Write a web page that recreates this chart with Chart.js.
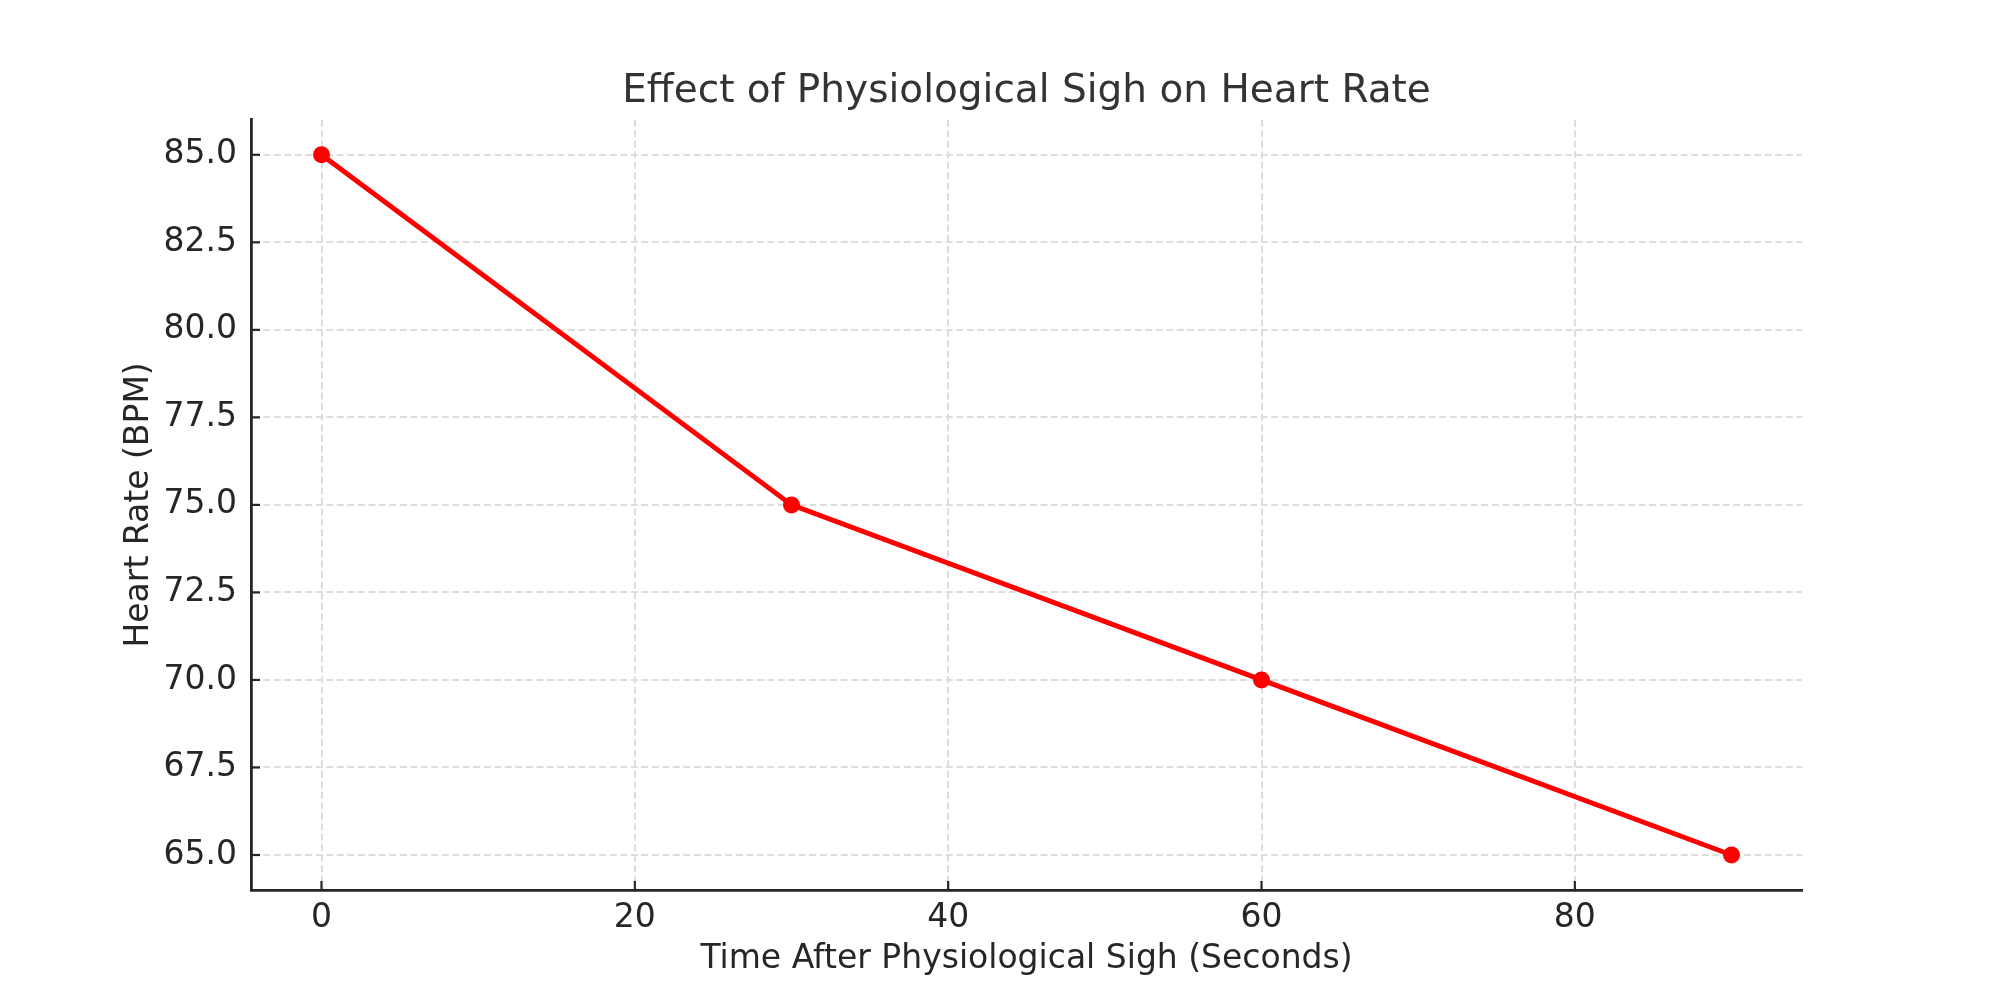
<!DOCTYPE html>
<html>
<head>
<meta charset="utf-8">
<title>Effect of Physiological Sigh on Heart Rate</title>
<script src="https://cdn.jsdelivr.net/npm/chart.js@4.4.1/dist/chart.umd.min.js"></script>
<style>
  html, body { margin: 0; padding: 0; background: #fff; }
  #chart { display: block; }
</style>
</head>
<body>
<canvas id="chart" width="2000" height="1000"></canvas>
<script>
// ---- data ----
const seconds = [0, 30, 60, 90];
const heartRate = [85, 75, 70, 65];
const xTicks = [0, 20, 40, 60, 80];
const yTicks = [65, 67.5, 70, 72.5, 75, 77.5, 80, 82.5, 85];

const FONT = "'DejaVu Sans', 'Liberation Sans', sans-serif";
const INK = "#262626";

// matplotlib-style ticks pointing into the plot
const innerTicks = {
  id: "innerTicks",
  beforeDatasetsDraw(chart) {
    const { ctx, chartArea, scales } = chart;
    const len = 9;
    ctx.save();
    ctx.strokeStyle = INK;
    ctx.lineWidth = 2.2;
    xTicks.forEach(v => {
      const px = scales.x.getPixelForValue(v);
      ctx.beginPath();
      ctx.moveTo(px, chartArea.bottom);
      ctx.lineTo(px, chartArea.bottom - len);
      ctx.stroke();
    });
    yTicks.forEach(v => {
      const py = scales.y.getPixelForValue(v);
      ctx.beginPath();
      ctx.moveTo(chartArea.left, py);
      ctx.lineTo(chartArea.left + len, py);
      ctx.stroke();
    });
    ctx.restore();
  }
};

new Chart(document.getElementById("chart"), {
  type: "line",
  data: {
    datasets: [{
      label: "Heart Rate",
      data: seconds.map((s, i) => ({ x: s, y: heartRate[i] })),
      borderColor: "#ff0000",
      backgroundColor: "#ff0000",
      borderWidth: 5,
      pointRadius: 8.5,
      pointBorderWidth: 0,
      pointBackgroundColor: "#ff0000",
      tension: 0
    }]
  },
  options: {
    responsive: false,
    animation: false,
    devicePixelRatio: 1,
    layout: { padding: { left: 120, right: 198, top: 0, bottom: 0 } },
    plugins: {
      legend: { display: false },
      tooltip: { enabled: false },
      title: {
        display: true,
        fullSize: false,
        text: "Effect of Physiological Sigh on Heart Rate",
        color: "#333333",
        font: { family: FONT, size: 39, weight: "normal" },
        padding: { top: 68, bottom: 5 }
      }
    },
    scales: {
      x: {
        type: "linear",
        min: -4.5,
        max: 94.5,
        afterBuildTicks: s => { s.ticks = xTicks.map(v => ({ value: v })); },
        afterFit: s => { s.height = 110; },
        ticks: {
          color: INK,
          font: { family: FONT, size: 33 },
          padding: 9,
          maxRotation: 0,
          callback: v => String(v)
        },
        grid: { color: "#dddddd", lineWidth: 2, drawTicks: false },
        border: { display: true, color: INK, width: 2.8, dash: [7, 3.5] },
        title: {
          display: true,
          text: "Time After Physiological Sigh (Seconds)",
          color: INK,
          font: { family: FONT, size: 33 },
          padding: { top: 0, bottom: 21 }
        }
      },
      y: {
        min: 64,
        max: 86,
        afterBuildTicks: s => { s.ticks = yTicks.map(v => ({ value: v })); },
        afterFit: s => { s.width = 131; },
        ticks: {
          color: INK,
          font: { family: FONT, size: 33 },
          padding: 14,
          callback: v => Number(v).toFixed(1)
        },
        grid: { color: "#dddddd", lineWidth: 2, drawTicks: false },
        border: { display: true, color: INK, width: 2.8, dash: [7, 3.5] },
        title: {
          display: true,
          text: "Heart Rate (BPM)",
          color: INK,
          font: { family: FONT, size: 33 },
          padding: { top: 0, bottom: 0 }
        }
      }
    }
  },
  plugins: [innerTicks]
});
</script>
</body>
</html>
